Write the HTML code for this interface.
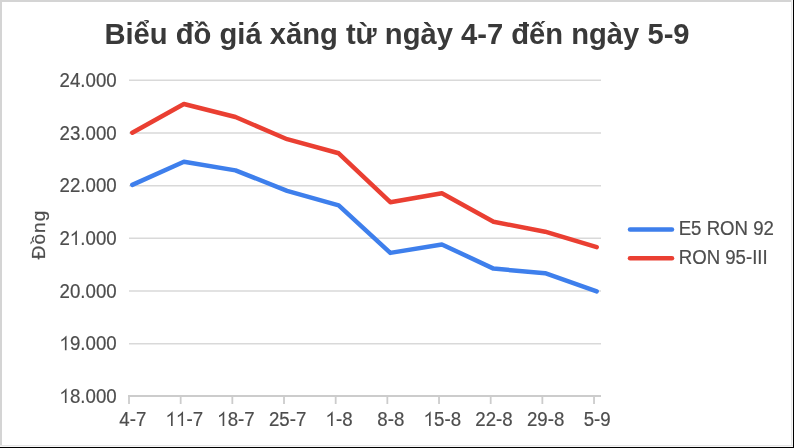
<!DOCTYPE html>
<html><head><meta charset="utf-8"><style>
html,body{margin:0;padding:0;background:#fff;}
body{width:794px;height:448px;overflow:hidden;position:relative;}
svg{position:absolute;left:0;top:0;will-change:transform;}
text{font-family:"Liberation Sans",sans-serif;font-kerning:none;}
</style></head><body>
<svg width="794" height="448" viewBox="0 0 794 448">
<rect x="0" y="0" width="794" height="448" fill="#fff"/>
<text transform="translate(397,43.5) scale(0.986,1)" text-anchor="middle" font-size="29.6" font-weight="bold" fill="#393939">Biểu đồ giá xăng từ ngày 4-7 đến ngày 5-9</text>
<line x1="129" y1="80.30" x2="601" y2="80.30" stroke="#d9d9d9" stroke-width="1.5"/>
<line x1="129" y1="132.97" x2="601" y2="132.97" stroke="#d9d9d9" stroke-width="1.5"/>
<line x1="129" y1="185.63" x2="601" y2="185.63" stroke="#d9d9d9" stroke-width="1.5"/>
<line x1="129" y1="238.30" x2="601" y2="238.30" stroke="#d9d9d9" stroke-width="1.5"/>
<line x1="129" y1="290.97" x2="601" y2="290.97" stroke="#d9d9d9" stroke-width="1.5"/>
<line x1="129" y1="343.64" x2="601" y2="343.64" stroke="#d9d9d9" stroke-width="1.5"/>
<line x1="128" y1="396" x2="601" y2="396" stroke="#cccccc" stroke-width="1.8"/>
<line x1="129.00" y1="396" x2="129.00" y2="404" stroke="#cccccc" stroke-width="1.8"/>
<line x1="180.67" y1="396" x2="180.67" y2="404" stroke="#cccccc" stroke-width="1.8"/>
<line x1="232.34" y1="396" x2="232.34" y2="404" stroke="#cccccc" stroke-width="1.8"/>
<line x1="284.01" y1="396" x2="284.01" y2="404" stroke="#cccccc" stroke-width="1.8"/>
<line x1="335.68" y1="396" x2="335.68" y2="404" stroke="#cccccc" stroke-width="1.8"/>
<line x1="387.35" y1="396" x2="387.35" y2="404" stroke="#cccccc" stroke-width="1.8"/>
<line x1="439.02" y1="396" x2="439.02" y2="404" stroke="#cccccc" stroke-width="1.8"/>
<line x1="490.69" y1="396" x2="490.69" y2="404" stroke="#cccccc" stroke-width="1.8"/>
<line x1="542.36" y1="396" x2="542.36" y2="404" stroke="#cccccc" stroke-width="1.8"/>
<line x1="594.03" y1="396" x2="594.03" y2="404" stroke="#cccccc" stroke-width="1.8"/>
<g font-size="20.3" fill="#4d4d4d" stroke="#4d4d4d" stroke-width="0.2">
<g transform="translate(116.70,87.00) scale(0.92,1)"><text id="y0" text-anchor="end">24.000</text></g>
<g transform="translate(116.70,139.67) scale(0.92,1)"><text id="y1" text-anchor="end">23.000</text></g>
<g transform="translate(116.70,192.33) scale(0.92,1)"><text id="y2" text-anchor="end">22.000</text></g>
<g transform="translate(116.70,245.00) scale(0.92,1)"><text id="y3" text-anchor="end">2 .000</text><path transform="translate(-50.80,0) scale(0.00991,-0.00991)" d="M763 0H583V1147C518 1085 433 1023 328 961C266 925 222 904 190 893V1068C323 1131 438 1207 537 1297C620 1372 677 1444 710 1466H763Z"/></g>
<g transform="translate(116.70,297.67) scale(0.92,1)"><text id="y4" text-anchor="end">20.000</text></g>
<g transform="translate(116.70,350.34) scale(0.92,1)"><text id="y5" text-anchor="end"> 9.000</text><path transform="translate(-62.09,0) scale(0.00991,-0.00991)" d="M763 0H583V1147C518 1085 433 1023 328 961C266 925 222 904 190 893V1068C323 1131 438 1207 537 1297C620 1372 677 1444 710 1466H763Z"/></g>
<g transform="translate(116.70,403.00) scale(0.92,1)"><text id="y6" text-anchor="end"> 8.000</text><path transform="translate(-62.09,0) scale(0.00991,-0.00991)" d="M763 0H583V1147C518 1085 433 1023 328 961C266 925 222 904 190 893V1068C323 1131 438 1207 537 1297C620 1372 677 1444 710 1466H763Z"/></g>
<g transform="translate(132.80,426.00) scale(0.92,1)"><text id="x0" text-anchor="middle">4-7</text></g>
<g transform="translate(184.40,426.00) scale(0.92,1)"><text id="x1" text-anchor="middle">  -7</text><path transform="translate(-20.31,0) scale(0.00991,-0.00991)" d="M763 0H583V1147C518 1085 433 1023 328 961C266 925 222 904 190 893V1068C323 1131 438 1207 537 1297C620 1372 677 1444 710 1466H763Z"/><path transform="translate(-9.03,0) scale(0.00991,-0.00991)" d="M763 0H583V1147C518 1085 433 1023 328 961C266 925 222 904 190 893V1068C323 1131 438 1207 537 1297C620 1372 677 1444 710 1466H763Z"/></g>
<g transform="translate(236.00,426.00) scale(0.92,1)"><text id="x2" text-anchor="middle"> 8-7</text><path transform="translate(-20.31,0) scale(0.00991,-0.00991)" d="M763 0H583V1147C518 1085 433 1023 328 961C266 925 222 904 190 893V1068C323 1131 438 1207 537 1297C620 1372 677 1444 710 1466H763Z"/></g>
<g transform="translate(287.60,426.00) scale(0.92,1)"><text id="x3" text-anchor="middle">25-7</text></g>
<g transform="translate(339.20,426.00) scale(0.92,1)"><text id="x4" text-anchor="middle"> -8</text><path transform="translate(-14.67,0) scale(0.00991,-0.00991)" d="M763 0H583V1147C518 1085 433 1023 328 961C266 925 222 904 190 893V1068C323 1131 438 1207 537 1297C620 1372 677 1444 710 1466H763Z"/></g>
<g transform="translate(390.80,426.00) scale(0.92,1)"><text id="x5" text-anchor="middle">8-8</text></g>
<g transform="translate(442.40,426.00) scale(0.92,1)"><text id="x6" text-anchor="middle"> 5-8</text><path transform="translate(-20.31,0) scale(0.00991,-0.00991)" d="M763 0H583V1147C518 1085 433 1023 328 961C266 925 222 904 190 893V1068C323 1131 438 1207 537 1297C620 1372 677 1444 710 1466H763Z"/></g>
<g transform="translate(494.00,426.00) scale(0.92,1)"><text id="x7" text-anchor="middle">22-8</text></g>
<g transform="translate(545.60,426.00) scale(0.92,1)"><text id="x8" text-anchor="middle">29-8</text></g>
<g transform="translate(597.20,426.00) scale(0.92,1)"><text id="x9" text-anchor="middle">5-9</text></g>
</g>
<text transform="translate(45.1,234.5) rotate(-90)" text-anchor="middle" font-size="19" letter-spacing="1" fill="#4d4d4d" stroke="#4d4d4d" stroke-width="0.2">Đồng</text>
<polyline points="132.30,184.91 183.90,161.68 235.50,170.37 287.10,190.81 338.70,205.40 390.30,252.90 441.90,244.42 493.50,268.60 545.10,273.18 596.70,291.35" fill="none" stroke="#3e7fec" stroke-width="4.5" stroke-linecap="round" stroke-linejoin="round"/>
<polyline points="132.30,132.66 183.90,103.96 235.50,117.02 287.10,139.20 338.70,153.26 390.30,202.19 441.90,193.34 493.50,221.78 545.10,231.68 596.70,247.22" fill="none" stroke="#ea3f32" stroke-width="4.5" stroke-linecap="round" stroke-linejoin="round"/>
<line x1="630" y1="229.4" x2="672" y2="229.4" stroke="#3e7fec" stroke-width="4.5" stroke-linecap="round"/>
<line x1="630" y1="258.3" x2="672" y2="258.3" stroke="#ea3f32" stroke-width="4.5" stroke-linecap="round"/>
<g font-size="19.9" fill="#4d4d4d" stroke="#4d4d4d" stroke-width="0.2">
<text transform="translate(678.7,235.3) scale(0.936,1)">E5 RON 92</text>
<text transform="translate(678.7,264.3) scale(0.936,1)">RON 95-III</text>
</g>
<rect x="0" y="0" width="794" height="2" fill="#d4d4d4"/>
<rect x="0" y="0" width="2" height="448" fill="#d4d4d4"/>
<rect x="791" y="0" width="1" height="448" fill="#e6e6e6"/>
<rect x="792" y="0" width="1" height="448" fill="#f6f6f6"/>
<rect x="0" y="445" width="794" height="1" fill="#e6e6e6"/>
<rect x="0" y="446" width="794" height="1" fill="#f6f6f6"/>
<rect x="793" y="0" width="1" height="448" fill="#000"/>
<rect x="0" y="447" width="794" height="1" fill="#000"/>
</svg>
</body></html>
